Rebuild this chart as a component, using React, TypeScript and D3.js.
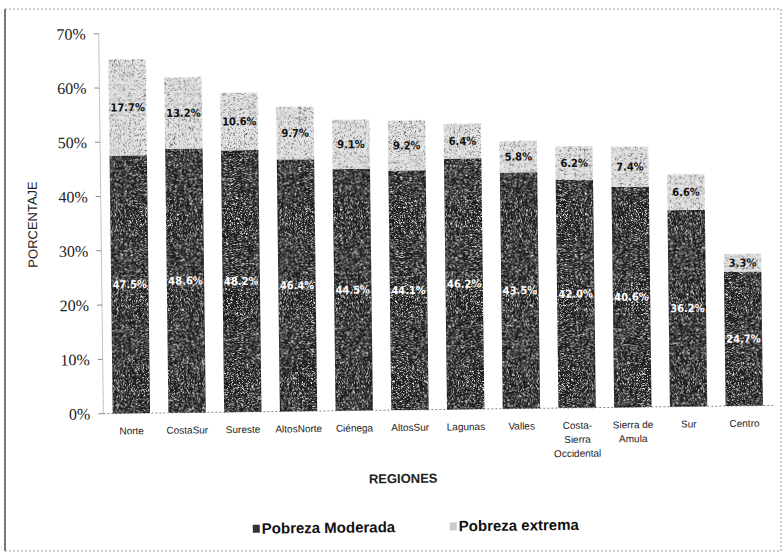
import React from "react";
import * as d3 from "d3";

// regiones y porcentajes
const regions = [
  "Norte", "CostaSur", "Sureste", "AltosNorte", "Ciénega", "AltosSur",
  "Lagunas", "Valles", "Costa-Sierra Occidental", "Sierra de Amula", "Sur", "Centro",
];
const regionLabels = [
  ["Norte"], ["CostaSur"], ["Sureste"], ["AltosNorte"], ["Ciénega"], ["AltosSur"],
  ["Lagunas"], ["Valles"], ["Costa-", "Sierra", "Occidental"], ["Sierra de", "Amula"], ["Sur"], ["Centro"],
];
const moderada = [47.5, 48.6, 48.2, 46.4, 44.5, 44.1, 46.2, 43.5, 42.0, 40.6, 36.2, 24.7];
const extrema = [17.7, 13.2, 10.6, 9.7, 9.1, 9.2, 6.4, 5.8, 6.2, 7.4, 6.6, 3.3];
const yTicks = [0, 10, 20, 30, 40, 50, 60, 70];
const seriesNames = ["Pobreza Moderada", "Pobreza extrema"];

const W = 782;
const H = 560;

export default function App() {
  const x = d3.scaleBand<string>()
    .domain(regions)
    .range([103, 770])
    .paddingInner(0.33)
    .paddingOuter(0.15);
  const y = d3.scaleLinear().domain([0, 70]).range([410, 30]);

  const bw = x.bandwidth();
  const sans = "'Liberation Sans', Arial, sans-serif";
  const lblFont = "'DejaVu Sans Condensed', 'DejaVu Sans', sans-serif";

  return (
    <svg width={W} height={H} style={{ position: "absolute", left: 0, top: 0, background: "#fff" }}>
      <defs>
        <filter id="spkW" x="0" y="0" width="1" height="1">
          <feTurbulence type="fractalNoise" baseFrequency="2.2" numOctaves="1" seed="3" />
          <feColorMatrix values="0 0 0 0 1  0 0 0 0 1  0 0 0 0 1  4 0 0 0 -1.95" />
          <feComposite in2="SourceGraphic" operator="in" />
        </filter>
        <filter id="spkB" x="0" y="0" width="1" height="1">
          <feTurbulence type="fractalNoise" baseFrequency="2.2" numOctaves="1" seed="7" />
          <feColorMatrix values="0 0 0 0 0  0 0 0 0 0  0 0 0 0 0  3 0 0 0 -1.6" />
          <feComposite in2="SourceGraphic" operator="in" />
        </filter>
      </defs>

      {/* marco punteado */}
      <rect x={5} y={9} width={776} height={542} fill="none" stroke="#999" strokeWidth={1} strokeDasharray="2,2" />
      <line x1={5} y1={9} x2={5} y2={551} stroke="#555" strokeWidth={1.5} />

      <g transform="rotate(-0.7, 400, 300)">
        {/* eje y */}
        <line x1={102} x2={102} y1={y(70)} y2={y(0)} stroke="#888" strokeWidth={1} strokeDasharray="1,1" />
        {yTicks.map((t) => (
          <g key={t}>
            <line x1={97} x2={102} y1={y(t)} y2={y(t)} stroke="#888" />
            <text
              x={89}
              y={y(t)}
              dy="0.35em"
              textAnchor="end"
              fontFamily="'Liberation Serif', 'Times New Roman', serif"
              fontSize={16}
              fill="#222"
            >
              {t}%
            </text>
          </g>
        ))}
        <text
          transform={`translate(38, ${y(35)}) rotate(-90)`}
          textAnchor="middle"
          fontFamily={sans}
          fontSize={13}
          fill="#222"
        >
          PORCENTAJE
        </text>

        {/* linea base */}
        <line x1={102} x2={772} y1={y(0)} y2={y(0)} stroke="#888" strokeDasharray="2,2" />

        {/* barras */}
        {regions.map((r, i) => {
          const x0 = x(r)!;
          const m = moderada[i];
          const e = extrema[i];
          const yM = y(m);
          const yE = y(m + e);
          return (
            <g key={r}>
              <rect x={x0} y={yM} width={bw} height={y(0) - yM} fill="#1c1c1c" />
              <rect x={x0} y={yM} width={bw} height={y(0) - yM} fill="#fff" filter="url(#spkW)" />
              <rect x={x0} y={yE} width={bw} height={yM - yE} fill="#e4e4e4" />
              <rect x={x0} y={yE} width={bw} height={yM - yE} fill="#fff" filter="url(#spkB)" />
            </g>
          );
        })}

        {/* etiquetas */}
        {regions.map((r, i) => {
          const cx = x(r)! + bw / 2;
          const m = moderada[i];
          const e = extrema[i];
          return (
            <g key={r}>
              <text x={cx} y={(y(m) + y(0)) / 2} dy="0.35em" textAnchor="middle"
                fontFamily={lblFont} fontWeight="bold" fontSize={11} fill="#fff">
                {m.toFixed(1)}%
              </text>
              <text x={cx} y={(y(m + e) + y(m)) / 2} dy="0.35em" textAnchor="middle"
                fontFamily={lblFont} fontWeight="bold" fontSize={11} fill="#111">
                {e.toFixed(1)}%
              </text>
              {regionLabels[i].map((ln, k) => (
                <text key={k} x={cx} y={431 + k * 14} textAnchor="middle"
                  fontFamily={sans} fontSize={10} fill="#222">
                  {ln}
                </text>
              ))}
            </g>
          );
        })}

        {/* titulo eje x */}
        <text x={401} y={483} textAnchor="middle" fontFamily={sans} fontWeight="bold" fontSize={13} fill="#222">
          REGIONES
        </text>

        {/* leyenda */}
        <g transform="translate(250, 532)">
          <rect x={0} y={-9} width={7} height={8} fill="#333" />
          <text x={9} y={0} fontFamily={sans} fontWeight="bold" fontSize={15} fill="#111">
            {seriesNames[0]}
          </text>
        </g>
        <g transform="translate(447, 532)">
          <rect x={0} y={-9} width={7} height={8} fill="#ccc" />
          <text x={9} y={0} fontFamily={sans} fontWeight="bold" fontSize={15} fill="#111">
            {seriesNames[1]}
          </text>
        </g>
      </g>
    </svg>
  );
}
